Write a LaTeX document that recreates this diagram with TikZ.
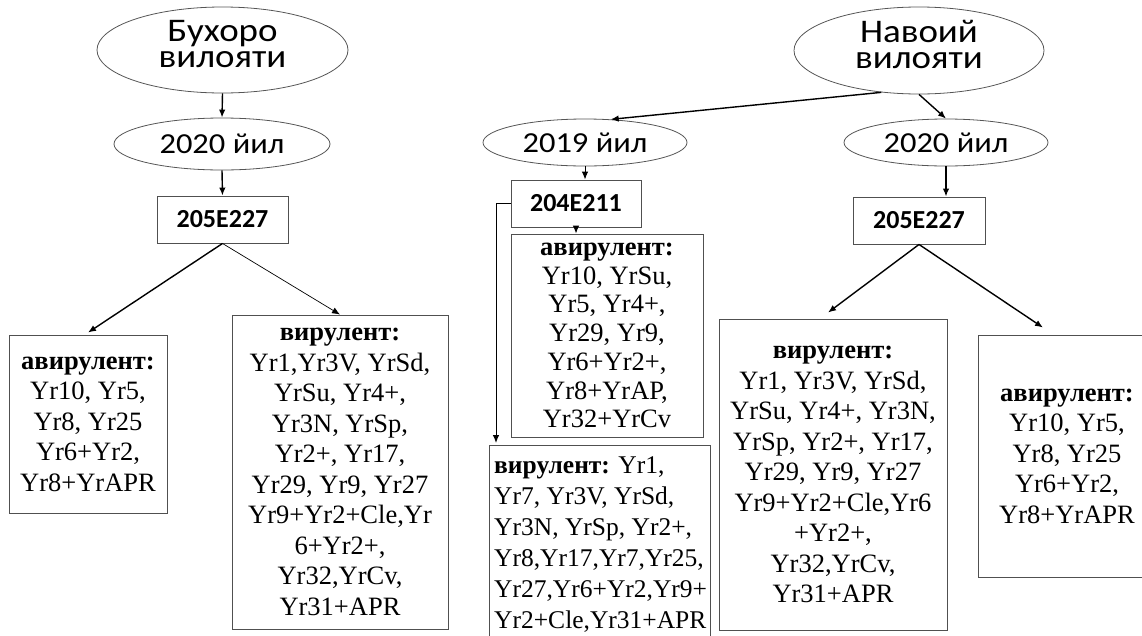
\documentclass[tikz,border=0pt]{standalone}
\usepackage{fontspec}
\setmainfont{Liberation Serif}
\newfontfamily\calib{Carlito}
\newfontfamily\calibwide[FakeStretch=1.12]{Carlito}
\usetikzlibrary{shapes.geometric,arrows.meta}

\definecolor{ovalgray}{HTML}{555555}
\definecolor{boxgray}{HTML}{505050}

\tikzset{
  oval/.style={ellipse, draw=ovalgray, line width=0.8pt, inner sep=0pt,
    font=\calibwide\fontsize{33}{26.7}\selectfont, align=center, text depth=12pt},
  year/.style={ellipse, draw=ovalgray, line width=0.8pt, inner sep=0pt,
    font=\calibwide\fontsize{29}{29}\selectfont},
  code/.style={rectangle, draw=boxgray, line width=0.9pt, inner sep=0pt,
    font=\calib\bfseries\fontsize{26}{30}\selectfont},
  list/.style={rectangle, draw=boxgray, line width=0.9pt, inner sep=0pt,
    font=\fontsize{26.5}{30.5}\selectfont, align=center},
  frame/.style={rectangle, draw=boxgray, line width=0.9pt, inner sep=0pt},
  listtext/.style={inner sep=0pt, align=left, font=\fontsize{25.5}{31}\selectfont},
  link/.style={draw=black, line width=1.4pt, -{Latex[length=8pt,width=6.5pt]}},
  thinlink/.style={draw=black, line width=0.7pt, -{Latex[length=8pt,width=6.5pt]}},
}

\begin{document}
\begin{tikzpicture}[x=1pt, y=-1pt]
\useasboundingbox (0,0) rectangle (1142,635);
\clip (0,0) rectangle (1142,635);

% Bukhara region
\node[oval, minimum width=251pt, minimum height=86pt] (bux) at (222.5,50) {Бухоро\\вилояти};
\node[year, minimum width=216pt, minimum height=52pt] (y20a) at (222,144) {2020 йил};
\node[code, minimum width=131pt, minimum height=47pt] (bx0) at (222.5,219.5) {205E227};
\node[list, minimum width=158pt, minimum height=178pt] (av0) at (88,424)
  {\textbf{авирулент:}\\Yr10, Yr5,\\Yr8, Yr25\\Yr6+Yr2,\\Yr8+YrAPR};
\node[list, minimum width=216pt, minimum height=314pt] (vir0) at (340,472)
  {\textbf{вирулент:}\\Yr1,Yr3V, YrSd,\\YrSu, Yr4+,\\Yr3N, YrSp,\\Yr2+, Yr17,\\Yr29, Yr9, Yr27\\Yr9+Yr2+Cle,Yr\\6+Yr2+,\\Yr32,YrCv,\\Yr31+APR};

% Navoi region
\node[oval, minimum width=250pt, minimum height=87pt] (nav) at (919,50.5) {Навоий\\вилояти};
\node[year, minimum width=204pt, minimum height=47pt] (y19) at (585,142.5) {2019 йил};
\node[year, minimum width=204pt, minimum height=47pt] (y20b) at (946,142.5) {2020 йил};
\node[code, minimum width=130pt, minimum height=47pt] (bx1) at (576,203.5) {204E211};
\node[code, minimum width=132pt, minimum height=47pt] (bx2) at (919,220.5) {205E227};
\node[list, minimum width=192pt, minimum height=203pt, font=\fontsize{26.5}{28.7}\selectfont] (av1) at (607,335.5)
  {\textbf{авирулент:}\\Yr10, YrSu,\\Yr5, Yr4+,\\Yr29, Yr9,\\Yr6+Yr2+,\\Yr8+YrAP,\\Yr32+YrCv};
% this box runs on past the lower edge
\node[frame, anchor=north west, minimum width=221pt, minimum height=220pt] (vir1) at (489,445) {};
\node[listtext, anchor=north west] (vir1text) at (494,456)
  {\textbf{вирулент:} Yr1,\\Yr7, Yr3V, YrSd,\\Yr3N, YrSp, Yr2+,\\Yr8,Yr17,Yr7,Yr25,\\Yr27,Yr6+Yr2,Yr9+\\Yr2+Cle,Yr31+APR};
\node[list, minimum width=228pt, minimum height=311pt] (vir2) at (833,474.5)
  {\textbf{вирулент:}\\Yr1, Yr3V, YrSd,\\YrSu, Yr4+, Yr3N,\\YrSp, Yr2+, Yr17,\\Yr29, Yr9, Yr27\\Yr9+Yr2+Cle,Yr6\\+Yr2+,\\Yr32,YrCv,\\Yr31+APR};
% this box runs on past the right edge
\node[list, minimum width=178pt, minimum height=242pt] (av2) at (1067,456)
  {\textbf{авирулент:}\\Yr10, Yr5,\\Yr8, Yr25\\Yr6+Yr2,\\Yr8+YrAPR};

% connectors, Bukhara
\draw[link] (bux.south) -- (y20a.north);
\draw[link] (y20a.south) -- (bx0.north);
\draw[link] (bx0.south) -- ([yshift=2pt]av0.north);
\draw[thinlink] (bx0.south) -- (vir0.north);

% connectors, Navoi
\draw[link] (nav.228) -- (y19.42);
\draw[link] (nav.south) -- (y20b.north);
\draw[link, line width=1pt] (y19.south) -- (y19.south |- bx1.north);
\draw[link] (y20b.south) -- (y20b.south |- bx2.north);
\draw[link, line width=1pt] (bx1.south) -- (bx1.south |- av1.north);
\draw[link, line width=1pt] (bx1.west) -| ([xshift=7pt, yshift=2pt]vir1.north west);
\draw[link] (bx2.south) -- ([xshift=-5pt, yshift=6pt]vir2.north);
\draw[link] (bx2.south) -- ([xshift=-24pt, yshift=7pt]av2.north);
\end{tikzpicture}
\end{document}
